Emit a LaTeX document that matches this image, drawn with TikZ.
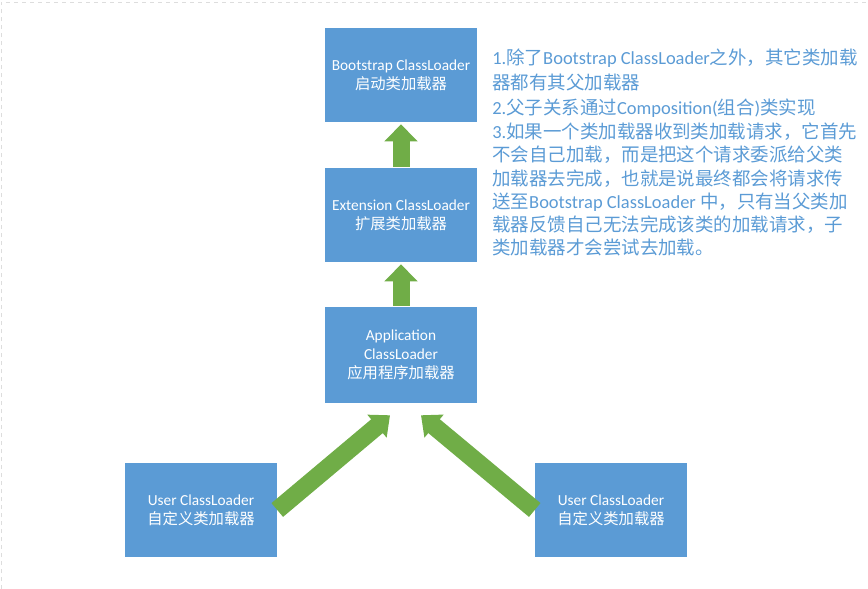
\documentclass[tikz,border=0pt]{standalone}
\usepackage{fontspec}
\setmainfont{Carlito}
\newfontfamily\cjk{Noto Sans CJK SC}
\usetikzlibrary{arrows.meta,calc}
\definecolor{boxblue}{HTML}{5B9BD5}
\definecolor{arrgreen}{HTML}{70AD47}
\definecolor{framegray}{HTML}{DDDDDD}
\newcommand\zh[1]{{\cjk #1}}
\tikzset{
  box/.style={fill=boxblue, text=white, minimum width=114pt, minimum height=70.5pt,
    inner sep=0pt, align=center, font=\fontsize{11.5}{14.25}\selectfont},
  uparrow/.style={draw=arrgreen, line width=12.75pt, -{Triangle[length=12.75pt,width=24pt]}},
  diagarrow/.style={draw=arrgreen, line width=13.5pt, -{Triangle[length=12.75pt,width=21.75pt]}},
  note/.style={text=boxblue, anchor=base west, inner sep=0pt, font=\fontsize{13.85}{17.85}\selectfont},
  frame/.style={draw=framegray, dashed, line width=0.75pt}
}
\begin{document}
\begin{tikzpicture}[x=0.75pt, y=-0.75pt]
\useasboundingbox (0,0) rectangle (868,589);
\draw[frame] (1,589) -- (1,2) -- (868,2);

\node[box] (boot) at (401,75) {Bootstrap ClassLoader\\\zh{启动类加载器}};
\node[box] (ext) at (401,215) {Extension ClassLoader\\\zh{扩展类加载器}};
\node[box, minimum height=72pt] (app) at (401,355) {Application\\ClassLoader\\\zh{应用程序加载器}};
\node[box] (userL) at (201,510) {User ClassLoader\\\zh{自定义类加载器}};
\node[box] (userR) at (611,510) {User ClassLoader\\\zh{自定义类加载器}};

\draw[uparrow, shorten <=0.75pt, shorten >=1.5pt] (ext.north) -- (boot.south);
\draw[uparrow, shorten <=0.75pt, shorten >=1.5pt] (app.north) -- (ext.south);

\coordinate (tipL) at ($(app.south)+(-11,12)$);
\coordinate (tipR) at ($(app.south)+(20,12)$);
\draw[diagarrow] (userL.east) -- (tipL);
\draw[diagarrow] (userR.west) -- (tipR);

\node[note] (t1) at (492,64) {1.\zh{除了}Bootstrap ClassLoader\zh{之外，其它类加载}};
\node[note] (t2) at (492,89) {\zh{器都有其父加载器}};
\node[note] (t3) at (492,114) {2.\zh{父子关系通过}Composition(\zh{组合})\zh{类实现}};
\node[note] (t4) at (492,138.5) {3.\zh{如果一个类加载器收到类加载请求，它首先}};
\node[note] (t5) at (492,161.5) {\zh{不会自己加载，而是把这个请求委派给父类}};
\node[note] (t6) at (492,185) {\zh{加载器去完成，也就是说最终都会将请求传}};
\node[note] (t7) at (492,208.5) {\zh{送至}Bootstrap ClassLoader \zh{中，只有当父类加}};
\node[note] (t8) at (492,231) {\zh{载器反馈自己无法完成该类的加载请求，子}};
\node[note] (t9) at (492,254) {\zh{类加载器才会尝试去加载。}};
\end{tikzpicture}
\end{document}
